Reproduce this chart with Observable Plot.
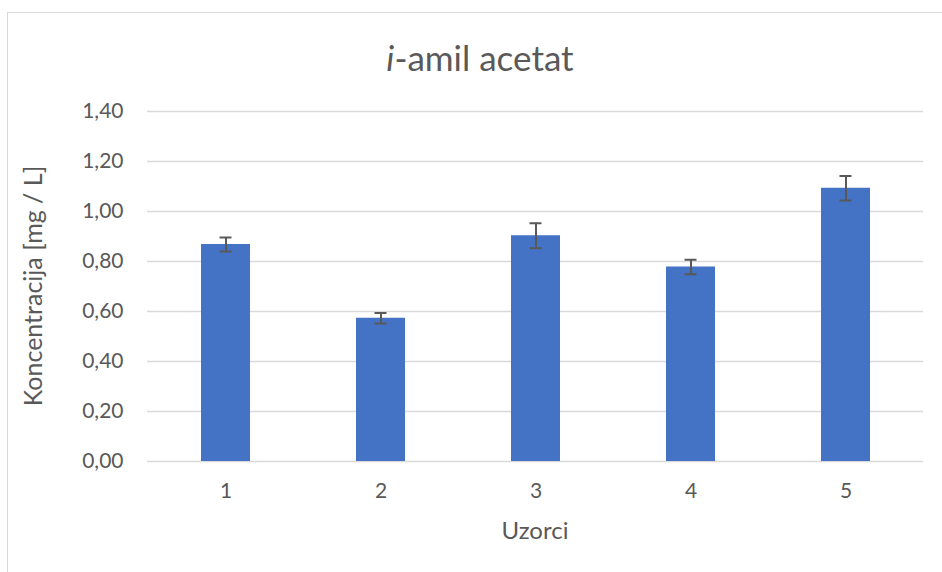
<!DOCTYPE html>
<html>
<head>
<meta charset="utf-8">
<script src="https://cdn.jsdelivr.net/npm/d3@7"></script>
<script src="https://cdn.jsdelivr.net/npm/@observablehq/plot@0.6"></script>
<style>
  html, body { margin: 0; padding: 0; background: #fff; }
  #wrap { position: relative; width: 942px; height: 572px; overflow: hidden; font-family: Lato, "Open Sans", sans-serif; color: #595959; }
  #frame { position: absolute; left: 7px; top: 12px; width: 1000px; height: 1000px; border-left: 1.5px solid #d9d9d9; border-top: 1.5px solid #d9d9d9; box-sizing: border-box; }
  #title { position: absolute; left: 280px; width: 400px; top: 35px; text-align: center; font-size: 35px; line-height: 44px; }
  #xlabel { position: absolute; left: 435px; width: 200px; top: 515px; text-align: center; font-size: 24px; line-height: 30px; }
  #ylabel { position: absolute; left: 32px; top: 286px; transform: translate(-50%, -50%) rotate(-90deg); white-space: nowrap; font-size: 25px; line-height: 30px; }
  #chart { position: absolute; left: 0; top: 0; }
</style>
</head>
<body>
<div id="wrap">
  <div id="frame"></div>
  <div id="chart"></div>
  <div id="title"><i>i</i>-amil acetat</div>
  <div id="xlabel">Uzorci</div>
  <div id="ylabel">Koncentracija [mg / L]</div>
</div>
<script>
const samples = ["1", "2", "3", "4", "5"];
const concentration = [0.868, 0.573, 0.903, 0.778, 1.093];
const errors = [0.028, 0.021, 0.050, 0.029, 0.049];
const yTicks = [0, 0.2, 0.4, 0.6, 0.8, 1.0, 1.2, 1.4];

const data = samples.map((s, i) => ({
  sample: s,
  value: concentration[i],
  lo: concentration[i] - errors[i],
  hi: concentration[i] + errors[i]
}));

const fmt = d => d.toFixed(2).replace(".", ",");

const chart = Plot.plot({
  width: 942,
  height: 572,
  marginLeft: 147,
  marginRight: 19,
  marginTop: 111,
  marginBottom: 111,
  style: { fontFamily: "Lato, 'Open Sans', sans-serif", fontSize: "21px", color: "#595959", background: "transparent" },
  x: { domain: samples, paddingInner: 0.685, paddingOuter: 0.3425, label: null, tickSize: 0, tickPadding: 22 },
  y: { domain: [0, 1.4], ticks: yTicks, tickFormat: fmt, label: null, tickSize: 0, tickPadding: 24 },
  marks: [
    Plot.ruleY(yTicks, { stroke: "#d9d9d9", strokeWidth: 1.5 }),
    Plot.barY(data, { x: "sample", y: "value", fill: "#4472c4" }),
    Plot.ruleX(data, { x: "sample", y1: "lo", y2: "hi", stroke: "#595959", strokeWidth: 2 }),
    Plot.tickY(data, { x: "sample", y: "lo", stroke: "#595959", strokeWidth: 2, insetLeft: 18.5, insetRight: 18.5 }),
    Plot.tickY(data, { x: "sample", y: "hi", stroke: "#595959", strokeWidth: 2, insetLeft: 18.5, insetRight: 18.5 })
  ]
});
document.getElementById("chart").appendChild(chart);
</script>
</body>
</html>
